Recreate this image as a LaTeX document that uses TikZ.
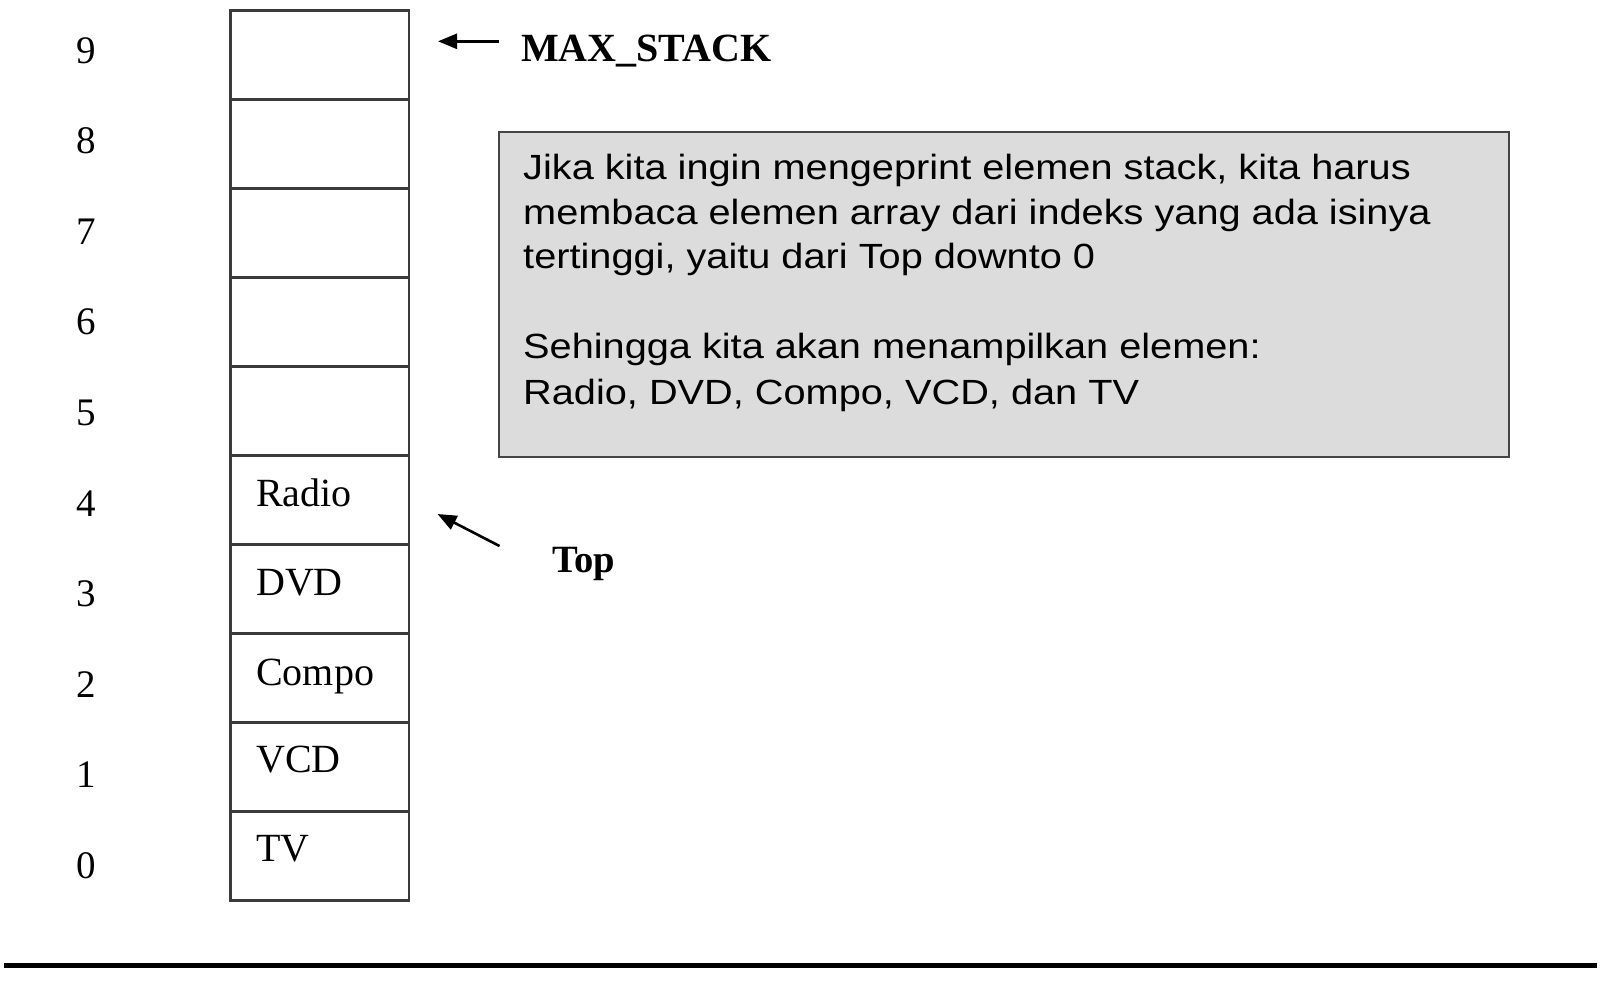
\documentclass[tikz,border=0pt]{standalone}
\usepackage{fontspec}
\setmainfont{Liberation Serif}
\newfontfamily\notefont[FakeStretch=1.135]{Liberation Sans}
\usetikzlibrary{arrows.meta}
\definecolor{boxgray}{HTML}{3A3A3A}
\definecolor{notefill}{HTML}{DCDCDC}
\definecolor{noteline}{HTML}{454545}
\tikzset{
  cell/.style={draw=boxgray, line width=2.4pt, minimum width=178.5pt, minimum height=89pt, inner sep=0pt, outer sep=0pt, anchor=north west},
  item/.style={anchor=base west, inner sep=0pt, font=\fontsize{40}{45}\selectfont},
  idx/.style={anchor=base, inner sep=0pt, font=\fontsize{39}{45}\selectfont},
  blbl/.style={anchor=base west, inner sep=0pt, font=\bfseries\fontsize{40}{45}\selectfont},
  pointer/.style={line width=2.6pt, -{Triangle[length=19pt,width=15pt]}},
  noteline/.style={anchor=base west, inner sep=0pt, font=\notefont\fontsize{35}{45}\selectfont},
}
\begin{document}
\begin{tikzpicture}[x=1pt,y=-1pt]
\useasboundingbox (0,0) rectangle (1600,991);
% stack cells
\foreach \k in {0,...,9}{
  \node[cell] (c\k) at (230.6, {10.5+(9-\k)*89}) {};
  \node[idx] (n\k) at (86, {63+(9-\k)*90.6}) {\k};
}
% cell contents
\node[item] (radio) at (256, 506.5) {Radio};
\node[item] (dvd) at (256, 595.5) {DVD};
\node[item] (compo) at (256, 685) {Compo};
\node[item] (vcd) at (256, 772) {VCD};
\node[item] (tv) at (256, 861) {TV};
% MAX_STACK pointer
\node[blbl] (maxs) at (521, 61) {MAX\_STACK};
\coordinate (maxtail) at (499, 41.3);
\coordinate (maxtip) at (438, 41.3);
\draw[pointer] (maxtail) -- (maxtip);
% Top pointer
\node[blbl, font=\bfseries\fontsize{38.6}{45}\selectfont] (toplbl) at (552, 572) {Top};
\coordinate (toptail) at (499.5, 546);
\coordinate (toptip) at (437.5, 514);
\draw[pointer] (toptail) -- (toptip);
% note box
\node[draw=noteline, fill=notefill, line width=2.4pt, inner sep=0pt, minimum width=1010pt, minimum height=325pt, anchor=north west] (note) at (498, 131) {};
\node[noteline] (l1) at (523, 179) {Jika kita ingin mengeprint elemen stack, kita harus};
\node[noteline] (l2) at (523, 224) {membaca elemen array dari indeks yang ada isinya};
\node[noteline] (l3) at (523, 268) {tertinggi, yaitu dari Top downto 0};
\node[noteline] (l4) at (523, 358) {Sehingga kita akan menampilkan elemen:};
\node[noteline] (l5) at (523, 404) {Radio, DVD, Compo, VCD, dan TV};
% bottom rule
\coordinate (ruleL) at (4, 965);
\coordinate (ruleR) at (1597, 965);
\draw[line width=5pt] (ruleL) -- (ruleR);
\end{tikzpicture}
\end{document}
